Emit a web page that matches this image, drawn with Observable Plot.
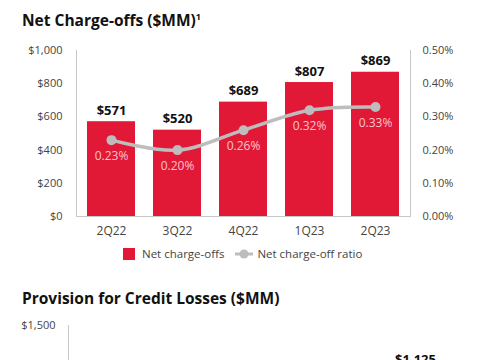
<!DOCTYPE html>
<html>
<head>
<meta charset="utf-8">
<script src="https://cdn.jsdelivr.net/npm/d3@7"></script>
<script src="https://cdn.jsdelivr.net/npm/@observablehq/plot@0.6"></script>
<style>
  html, body { margin: 0; padding: 0; background: #fff; }
  body { width: 485px; height: 360px; overflow: hidden; position: relative; font-family: "Open Sans", sans-serif; }
  .title { position: absolute; left: 22px; font-weight: bold; font-size: 15.5px; color: #111; white-space: nowrap; }
  .title sup { font-size: 9px; }
  #chart1 { position: absolute; left: 0; top: 40px; }
  #chart2 { position: absolute; left: 0; top: 315px; }
  #legend { position: absolute; top: 246px; left: 123px; font-size: 11.5px; color: #444; display: flex; align-items: center; white-space: nowrap; }
  .sw { display: inline-block; width: 12px; height: 12px; margin-right: 7px; }
</style>
</head>
<body>
<div class="title" style="top:9px">Net Charge-offs ($MM)<sup>1</sup></div>
<div id="chart1"></div>
<div id="legend"></div>
<div class="title" style="top:287px">Provision for Credit Losses ($MM)</div>
<div id="chart2"></div>
<script>
// ---- data ----
const quarters = ["2Q22", "3Q22", "4Q22", "1Q23", "2Q23"];
const netChargeOffs = [571, 520, 689, 807, 869];
const chargeOffRatio = [0.23, 0.20, 0.26, 0.32, 0.33]; // percent
const leftTicks = [0, 200, 400, 600, 800, 1000];
const rightTicks = [0, 0.10, 0.20, 0.30, 0.40, 0.50]; // percent
const legendLabels = ["Net charge-offs", "Net charge-off ratio"];

const provisionQuarters = ["2Q22", "3Q22", "4Q22", "1Q23", "2Q23"];
const provisionValues = [null, null, null, null, 1125];
const provisionTicks = [1500];

const red = "#e21936";
const grey = "#bdbdbd";
const ratioToDollars = 1000 / 0.5; // right axis 0.50% aligns with $1,000

const data = quarters.map((q, i) => ({
  q, v: netChargeOffs[i], r: chargeOffRatio[i], rv: chargeOffRatio[i] * ratioToDollars
}));

const chart1 = Plot.plot({
  width: 485, height: 205,
  marginTop: 10, marginBottom: 29, marginLeft: 76, marginRight: 75,
  x: {domain: quarters, paddingInner: 0.27, paddingOuter: 0.13, label: null},
  y: {domain: [0, 1000], label: null},
  style: {fontFamily: "Open Sans, sans-serif", fontSize: "11px", color: "#444", background: "#fff"},
  marks: [
    Plot.barY(data, {x: "q", y: "v", fill: red}),
    Plot.frame({anchor: "left", stroke: "#c8c8c8"}),
    Plot.frame({anchor: "right", stroke: "#c8c8c8"}),
    Plot.ruleY([0], {stroke: "#c8c8c8"}),
    Plot.axisY(leftTicks, {tickSize: 0, tickPadding: 14, fill: "#444", fontSize: 11, tickFormat: d => "$" + d3.format(",")(d), label: null}),
    Plot.axisY(rightTicks.map(t => t * ratioToDollars), {anchor: "right", tickSize: 0, tickPadding: 12, fill: "#444", fontSize: 11, tickFormat: d => (d / ratioToDollars).toFixed(2) + "%", label: null}),
    Plot.axisX({tickSize: 0, tickPadding: 10, fill: "#444", fontSize: 12, label: null}),
    Plot.line(data, {x: "q", y: "rv", stroke: grey, strokeWidth: 3.5, curve: "catmull-rom"}),
    Plot.dot(data, {x: "q", y: "rv", r: 5, fill: grey, stroke: "none"}),
    Plot.text(data, {x: "q", y: "rv", text: d => d.r.toFixed(2) + "%", dy: 16, fill: "#f7c6cb", fontSize: 12}),
    Plot.text(data, {x: "q", y: "v", text: d => "$" + d.v, dy: -11, fill: "#111", fontSize: 13, fontWeight: "bold"})
  ]
});
document.getElementById("chart1").append(chart1);

// legend
const legend = document.getElementById("legend");
legend.innerHTML =
  `<span class="sw" style="background:${red}"></span><span>${legendLabels[0]}</span>` +
  `<svg width="18" height="12" style="margin-left:11px;margin-right:4px"><line x1="0" y1="6" x2="18" y2="6" stroke="${grey}" stroke-width="3"/><circle cx="9" cy="6" r="4.5" fill="${grey}"/></svg><span>${legendLabels[1]}</span>`;

// second (cropped) chart
const pdata = provisionQuarters.map((q, i) => ({q, v: provisionValues[i]})).filter(d => d.v != null);
const chart2 = Plot.plot({
  width: 485, height: 230,
  marginTop: 10, marginBottom: 32, marginLeft: 68, marginRight: 31,
  x: {domain: provisionQuarters, paddingInner: 0.27, paddingOuter: 0.13, label: null, axis: null},
  y: {domain: [0, 1500], label: null},
  style: {fontFamily: "Open Sans, sans-serif", fontSize: "11px", color: "#444", background: "#fff"},
  marks: [
    Plot.frame({anchor: "left", stroke: "#c8c8c8"}),
    Plot.axisY(provisionTicks, {tickSize: 0, tickPadding: 13, fill: "#444", fontSize: 11, tickFormat: d => "$" + d3.format(",")(d), label: null}),
    Plot.barY(pdata, {x: "q", y: "v", fill: red}),
    Plot.text(pdata, {x: "q", y: "v", text: d => "$" + d3.format(",")(d.v), dy: -13, fill: "#111", fontSize: 13, fontWeight: "bold"})
  ]
});
document.getElementById("chart2").append(chart2);
</script>
</body>
</html>
